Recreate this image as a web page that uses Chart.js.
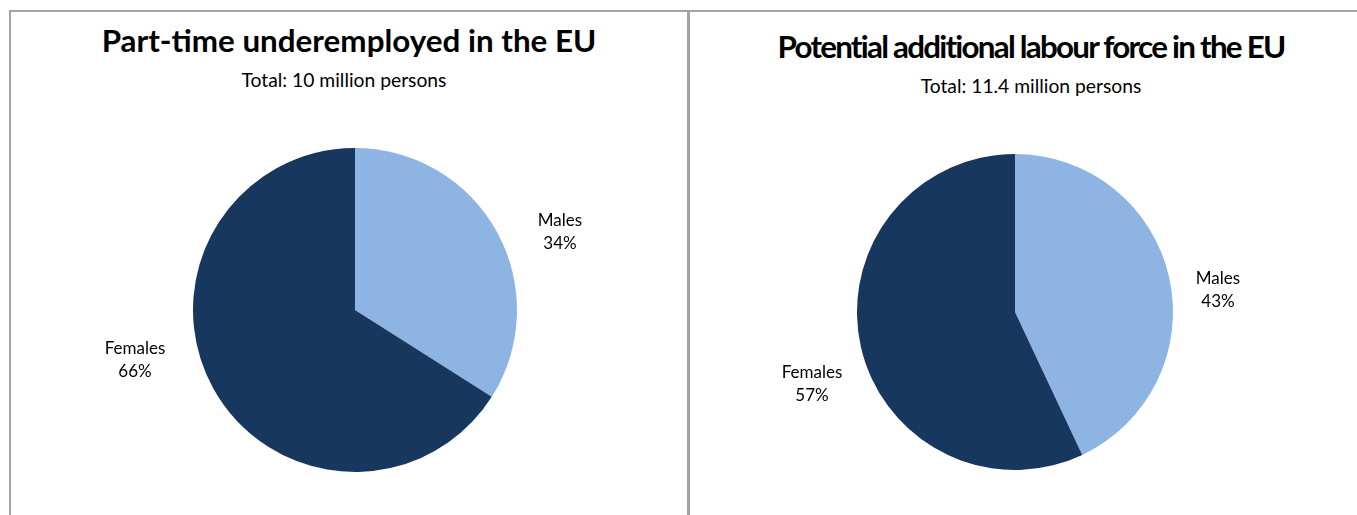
<!DOCTYPE html>
<html>
<head>
<meta charset="utf-8">
<script src="https://cdn.jsdelivr.net/npm/chart.js@4.4.0/dist/chart.umd.min.js"></script>
<style>
    body { margin: 0; background: #fff; width: 1357px; height: 515px; overflow: hidden; position: relative; font-family: Lato, sans-serif; }
    .panel { position: absolute; top: 10px; height: 520px; border-top: 2px solid #a3a3a3; }
    #leftPanel { left: 9px; width: 676px; border-left: 2px solid #a3a3a3; border-right: 2px solid #a3a3a3; }
    #rightPanel { left: 688px; width: 700px; border-left: 2px solid #a3a3a3; }
    .title { position: absolute; white-space: nowrap; font-weight: bold; color: #000; }
    .subtitle { position: absolute; white-space: nowrap; color: #000; }
    canvas { position: absolute; }
</style>
</head>
<body>
<div class="panel" id="leftPanel"></div>
<div class="panel" id="rightPanel"></div>

<div class="title" id="title1"></div>
<div class="subtitle" id="sub1"></div>
<div class="title" id="title2"></div>
<div class="subtitle" id="sub2"></div>

<canvas id="chart1" width="660" height="400" style="left:25px; top:110px"></canvas>
<canvas id="chart2" width="600" height="400" style="left:715px; top:112px"></canvas>

<script>
const categories = ['Males', 'Females'];
const underemployedShares = [34, 66];
const labourForceShares = [43, 57];
const titles = ['Part-time underemployed in the EU', 'Potential additional labour force in the EU'];
const subtitles = ['Total: 10 million persons', 'Total: 11.4 million persons'];
const colors = ['#8EB4E3', '#17375E'];

// put a line of text centred on cx with its baseline at `baseline`
function setLine(el, size, cx, baseline) {
    el.style.fontSize = size + 'px';
    el.style.lineHeight = size + 'px';
    el.style.top = (baseline - 0.887 * size) + 'px';
    const w = el.getBoundingClientRect().width;
    el.style.left = (cx - w / 2) + 'px';
}

// choose the font size that gives the wanted width
function fitSize(id, text, width) {
    const el = document.getElementById(id);
    el.textContent = text;
    el.style.fontSize = '20px';
    return 20 * width / el.getBoundingClientRect().width;
}

const titleSize = fitSize('title1', titles[0], 495);
setLine(document.getElementById('title1'), titleSize, 349, 53);

const subSize = fitSize('sub1', subtitles[0], 205);
setLine(document.getElementById('sub1'), subSize, 344, 87);

// the right title is set condensed in the original
const t2 = document.getElementById('title2');
t2.textContent = titles[1];
t2.style.fontSize = titleSize + 'px';
const natural = t2.getBoundingClientRect().width;
t2.style.letterSpacing = ((508 - natural) / titles[1].length) + 'px';
setLine(t2, titleSize, 1031, 59);

const s2 = document.getElementById('sub2');
s2.textContent = subtitles[1];
setLine(s2, subSize, 1031, 93);

// outside labels, offsets relative to the pie centre
const pieLabels = {
    id: 'pieLabels',
    afterDatasetsDraw(chart, args, opts) {
        const ctx = chart.ctx;
        const meta = chart.getDatasetMeta(0);
        const values = chart.data.datasets[0].data;
        ctx.save();
        ctx.font = '17px Lato, sans-serif';
        ctx.fillStyle = '#000';
        ctx.textAlign = 'center';
        ctx.textBaseline = 'middle';
        meta.data.forEach((arc, i) => {
            const [dx, dy] = opts.offsets[i];
            const x = arc.x + dx;
            const y = arc.y + dy;
            ctx.fillText(chart.data.labels[i], x, y - 11);
            ctx.fillText(values[i] + '%', x, y + 12);
        });
        ctx.restore();
    }
};

function makePie(canvasId, values, pad, offsets) {
    return new Chart(document.getElementById(canvasId), {
        type: 'pie',
        data: {
            labels: categories,
            datasets: [{
                data: values,
                backgroundColor: colors,
                borderWidth: 0,
                hoverOffset: 0,
                offset: 0
            }]
        },
        options: {
            responsive: false,
            animation: false,
            events: [],
            layout: { padding: { top: pad, bottom: pad, left: 0, right: 0 } },
            plugins: {
                legend: { display: false },
                tooltip: { enabled: false },
                pieLabels: { offsets: offsets }
            }
        },
        plugins: [pieLabels]
    });
}

makePie('chart1', underemployedShares, 38, [[205, -78], [-220, 50]]);
makePie('chart2', labourForceShares, 42, [[203, -22], [-203, 72]]);
</script>
</body>
</html>
